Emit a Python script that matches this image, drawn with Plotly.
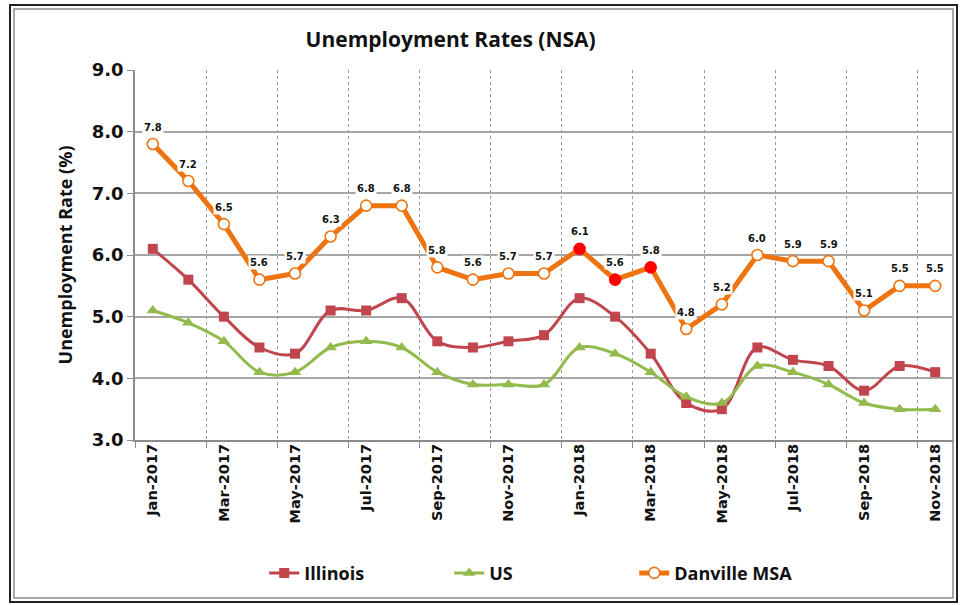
import plotly.graph_objects as go

months = ["Jan-2017", "Feb-2017", "Mar-2017", "Apr-2017", "May-2017", "Jun-2017",
          "Jul-2017", "Aug-2017", "Sep-2017", "Oct-2017", "Nov-2017", "Dec-2017",
          "Jan-2018", "Feb-2018", "Mar-2018", "Apr-2018", "May-2018", "Jun-2018",
          "Jul-2018", "Aug-2018", "Sep-2018", "Oct-2018", "Nov-2018"]
illinois = [6.1, 5.6, 5.0, 4.5, 4.4, 5.1, 5.1, 5.3, 4.6, 4.5, 4.6, 4.7,
            5.3, 5.0, 4.4, 3.6, 3.5, 4.5, 4.3, 4.2, 3.8, 4.2, 4.1]
us = [5.1, 4.9, 4.6, 4.1, 4.1, 4.5, 4.6, 4.5, 4.1, 3.9, 3.9, 3.9,
      4.5, 4.4, 4.1, 3.7, 3.6, 4.2, 4.1, 3.9, 3.6, 3.5, 3.5]
danville = [7.8, 7.2, 6.5, 5.6, 5.7, 6.3, 6.8, 6.8, 5.8, 5.6, 5.7, 5.7,
            6.1, 5.6, 5.8, 4.8, 5.2, 6.0, 5.9, 5.9, 5.1, 5.5, 5.5]
highlighted = ["Jan-2018", "Feb-2018", "Mar-2018"]
y_ticks = [3.0, 4.0, 5.0, 6.0, 7.0, 8.0, 9.0]

idx = list(range(len(months)))
ORANGE = "#EE7411"
RED = "#C0454D"
GREEN = "#93BA4C"

fig = go.Figure()
fig.add_trace(go.Scatter(
    x=idx, y=illinois, name="Illinois", mode="lines+markers",
    line=dict(color=RED, width=3, shape="spline", smoothing=1.0),
    marker=dict(symbol="square", size=10, color=RED)))
fig.add_trace(go.Scatter(
    x=idx, y=us, name="US", mode="lines+markers",
    line=dict(color=GREEN, width=3, shape="spline", smoothing=1.0),
    marker=dict(symbol="triangle-up", size=11, color=GREEN)))
fig.add_trace(go.Scatter(
    x=idx, y=danville, name="Danville MSA", mode="lines+markers",
    line=dict(color=ORANGE, width=5),
    marker=dict(symbol="circle", size=11,
                color=["#FF0000" if m in highlighted else "white" for m in months],
                line=dict(color=[("#FF0000" if m in highlighted else ORANGE) for m in months], width=1.6))))
# invisible trace to activate the boundary axis
fig.add_trace(go.Scatter(x=[idx[0], idx[-1]], y=[y_ticks[0], y_ticks[0]], xaxis="x2",
                         mode="lines", line=dict(width=0), showlegend=False, hoverinfo="skip"))

for i, v in enumerate(danville):
    fig.add_annotation(x=i, y=v, text=f"{v:.1f}", showarrow=False, yshift=17,
                       bgcolor="white", borderpad=1,
                       font=dict(family="DejaVu Sans", size=10, color="#111111", weight="bold"))

fig.update_layout(
    width=965, height=605,
    margin=dict(l=135, r=12, t=70, b=165),
    paper_bgcolor="white", plot_bgcolor="white",
    title=dict(text="<b>Unemployment Rates (NSA)</b>", x=0.467, xanchor="center",
               xref="container", y=0.934, yanchor="middle", yref="container",
               font=dict(family="Open Sans", size=21, color="#111111")),
    xaxis=dict(range=[-0.5, len(months) - 0.5], tickmode="array",
               tickvals=idx[::2], ticktext=months[::2], tickangle=-90,
               showgrid=False, zeroline=False, ticks="", showline=False,
               tickfont=dict(family="DejaVu Sans", size=14.5, color="#111111", weight="bold")),
    xaxis2=dict(range=[-0.5, len(months) - 0.5], overlaying="x", anchor="y",
                tickmode="linear", tick0=-0.5, dtick=2, showticklabels=False,
                showgrid=True, griddash="dot", gridcolor="#9A9A9A", gridwidth=1,
                ticks="outside", ticklen=6, tickcolor="#8C8C8C",
                showline=True, linecolor="#8C8C8C", linewidth=1.5, zeroline=False),
    yaxis=dict(range=[3, 9], tickmode="array", tickvals=y_ticks,
               ticktext=[f"{t:.1f}" for t in y_ticks],
               showgrid=True, gridcolor="#A6A6A6", gridwidth=1.5,
               showline=True, linecolor="#8C8C8C", linewidth=1.5,
               ticks="outside", ticklen=6, tickcolor="#8C8C8C", zeroline=False,
               tickfont=dict(family="DejaVu Sans", size=18, color="#111111", weight="bold"),
               title=dict(text="<b>Unemployment Rate (%)</b>", standoff=14,
                          font=dict(family="Open Sans", size=18, color="#111111"))),
    legend=dict(orientation="h", x=0.158, xanchor="left", y=-0.36, yanchor="middle",
                entrywidth=140, font=dict(family="Open Sans", size=18, color="#111111", weight="bold"),
                bgcolor="rgba(0,0,0,0)"),
    showlegend=True,
)

# chart frame (double border) in paper coords relative to plot area
pw, ph = 818.0, 370.0
def px_x(v):
    return (v - 135) / pw
def px_y(v):
    return (440 - v) / ph
fig.add_shape(type="rect", xref="paper", yref="paper",
              x0=px_x(10), x1=px_x(957), y0=px_y(602), y1=px_y(5),
              line=dict(color="#222222", width=2), layer="below")
fig.add_shape(type="rect", xref="paper", yref="paper",
              x0=px_x(14), x1=px_x(953), y0=px_y(598), y1=px_y(9),
              line=dict(color="#8C8C8C", width=1.5), layer="below")

fig.write_html("out.html", config={"displayModeBar": False},
               post_script="document.body.style.margin='0';document.body.style.overflow='hidden';")
